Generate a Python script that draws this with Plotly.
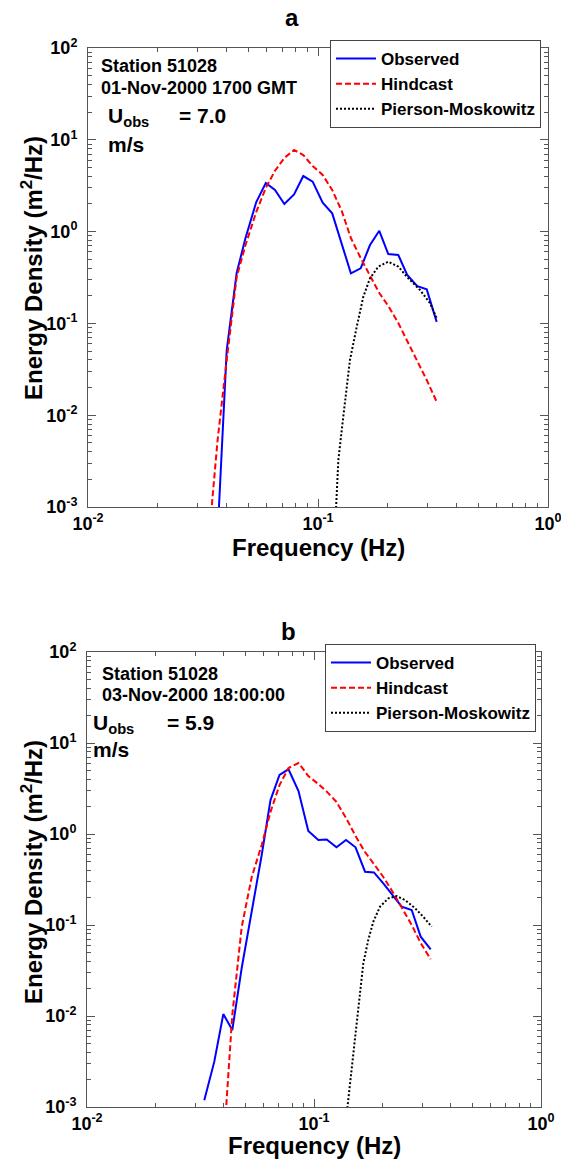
import plotly.graph_objects as go

# ---------------- Panel a data (01-Nov-2000 1700 GMT) ----------------
freq_obs_a = [0.0366, 0.0401, 0.0443, 0.0484, 0.0539, 0.0593, 0.0650, 0.0714,
              0.0787, 0.0863, 0.0948, 0.1048, 0.1153, 0.1268, 0.1390, 0.1533,
              0.1683, 0.1847, 0.2021, 0.2234, 0.2443, 0.2702, 0.2970, 0.3281]
obs_a = [0.0005, 0.0513, 0.354, 0.851, 2.10, 3.38, 2.84, 2.00,
         2.54, 4.03, 3.50, 2.06, 1.58, 0.746, 0.351, 0.398,
         0.714, 1.02, 0.570, 0.556, 0.337, 0.255, 0.235, 0.104]

freq_hind_a = [0.0332, 0.0366, 0.0401, 0.0443, 0.0484, 0.0539, 0.0593, 0.0650,
               0.0714, 0.0787, 0.0863, 0.0948, 0.1048, 0.1153, 0.1268, 0.1390,
               0.1533, 0.1683, 0.1847, 0.2021, 0.2234, 0.2443, 0.2702, 0.2970,
               0.3281]
hind_a = [0.00034, 0.00537, 0.0399, 0.320, 0.714, 1.64, 2.99, 4.6,
          6.34, 7.75, 6.83, 5.18, 4.14, 2.84, 1.68, 0.851,
          0.515, 0.328, 0.214, 0.155, 0.101, 0.0643, 0.0389, 0.0242,
          0.0140]

freq_pm_a = [0.1180, 0.1226, 0.1288, 0.1377, 0.1474, 0.1574, 0.1683, 0.1828,
             0.2021, 0.2234, 0.2469, 0.2777, 0.3069, 0.3281]
pm_a = [0.000437, 0.00325, 0.00964, 0.0399, 0.0920, 0.195, 0.310, 0.415,
        0.470, 0.415, 0.310, 0.231, 0.166, 0.114]

# ---------------- Panel b data (03-Nov-2000 18:00:00) ----------------
freq_obs_b = [0.03286, 0.03637, 0.03986, 0.04366, 0.04803, 0.05316, 0.05883,
              0.06433, 0.07047, 0.07721, 0.08545, 0.09438, 0.1045, 0.1138,
              0.1256, 0.1384, 0.1524, 0.1678, 0.1837, 0.2020, 0.2222, 0.2434,
              0.2694, 0.2951, 0.3266]
obs_b = [0.00119, 0.00315, 0.0105, 0.00702, 0.0337, 0.1345, 0.588,
         2.36, 4.45, 5.14, 2.97, 1.08, 0.859, 0.869,
         0.714, 0.859, 0.714, 0.385, 0.378, 0.287, 0.214, 0.159,
         0.146, 0.0744, 0.0541]

freq_hind_b = [0.03986, 0.04366, 0.04803, 0.05316, 0.05883, 0.06433, 0.07047,
               0.07721, 0.08545, 0.09438, 0.1045, 0.1138, 0.1256, 0.1384,
               0.1524, 0.1678, 0.1837, 0.2020, 0.2222, 0.2434, 0.2694, 0.2951,
               0.3266]
hind_b = [0.000337, 0.0103, 0.0951, 0.337, 0.757, 1.75, 3.45,
          5.31, 6.03, 4.34, 3.54, 2.92, 2.25, 1.50,
          0.951, 0.634, 0.468, 0.337, 0.231, 0.156, 0.100, 0.0634,
          0.0420]

freq_pm_b = [0.1384, 0.1465, 0.1516, 0.1583, 0.1649, 0.1734, 0.1825, 0.1953,
             0.2125, 0.2313, 0.2517, 0.2786, 0.3031, 0.3300]
pm_b = [0.00072, 0.00266, 0.00593, 0.0163, 0.0379, 0.0684, 0.1087, 0.159,
        0.196, 0.208, 0.188, 0.153, 0.123, 0.0958]

# ---------------- tick labels ----------------
x_tickvals = [0.01, 0.1, 1]
x_ticktext = ["10<sup>-2</sup>", "10<sup>-1</sup>", "10<sup>0</sup>"]
y_tickvals = [1e-3, 1e-2, 1e-1, 1, 10, 100]
y_ticktext = ["10<sup>-3</sup>", "10<sup>-2</sup>", "10<sup>-1</sup>",
              "10<sup>0</sup>", "10<sup>1</sup>", "10<sup>2</sup>"]
x_minor = [k * 10.0 ** d for d in (-2, -1) for k in range(2, 10)]
y_minor = [k * 10.0 ** d for d in (-3, -2, -1, 0, 1) for k in range(2, 10)]

series_names = ["Observed", "Hindcast", "Pierson-Moskowitz"]

FONT = "Liberation Sans, Arial, Helvetica, sans-serif"
W, H = 561, 1162
AX = "#555555"

fig = go.Figure()


def add_panel(fo, eo, fh, eh, fp, ep, xa, ya, leg):
    fig.add_trace(go.Scatter(x=fo, y=eo, mode="lines", name=series_names[0],
                             line=dict(color="#0000FF", width=2),
                             xaxis=xa, yaxis=ya, legend=leg))
    fig.add_trace(go.Scatter(x=fh, y=eh, mode="lines", name=series_names[1],
                             line=dict(color="#FF0000", width=2, dash="6px,3px"),
                             xaxis=xa, yaxis=ya, legend=leg))
    fig.add_trace(go.Scatter(x=fp, y=ep, mode="lines", name=series_names[2],
                             line=dict(color="#000000", width=2, dash="2px,2px"),
                             xaxis=xa, yaxis=ya, legend=leg))


add_panel(freq_obs_a, obs_a, freq_hind_a, hind_a, freq_pm_a, pm_a, "x", "y", "legend")
add_panel(freq_obs_b, obs_b, freq_hind_b, hind_b, freq_pm_b, pm_b, "x2", "y2", "legend2")


def axis_common(tv, tt, minor_vals, rng):
    return dict(type="log", range=rng, showline=True, linecolor=AX, linewidth=1,
                mirror="ticks", ticks="inside", ticklen=8, tickcolor=AX, tickwidth=1,
                showgrid=False, zeroline=False, tickmode="array",
                tickvals=tv, ticktext=tt, ticklabeloverflow="allow",
                tickfont=dict(family=FONT, size=18, color="black", weight="bold"),
                minor=dict(ticks="inside", ticklen=4, tickcolor=AX, tickwidth=1,
                           tickvals=minor_vals, showgrid=False))


def px(xp, yp):
    return xp / W, 1 - yp / H


LEG_FONT = dict(family=FONT, size=17, color="black", weight="bold")

fig.update_layout(
    width=W, height=H, autosize=False,
    margin=dict(l=0, r=0, t=0, b=0, autoexpand=False),
    paper_bgcolor="white", plot_bgcolor="white",
    font=dict(family=FONT, color="black"),
    xaxis=dict(domain=[88 / W, 548 / W], anchor="y",
               **axis_common(x_tickvals, x_ticktext, x_minor, [-2, 0])),
    yaxis=dict(domain=[1 - 507 / H, 1 - 48 / H], anchor="x", ticklabelstandoff=6,
               **axis_common(y_tickvals, y_ticktext, y_minor, [-3, 2])),
    xaxis2=dict(domain=[87 / W, 541 / W], anchor="y2",
                **axis_common(x_tickvals, x_ticktext, x_minor, [-2, 0])),
    yaxis2=dict(domain=[1 - 1107 / H, 1 - 652 / H], anchor="x2", ticklabelstandoff=6,
                **axis_common(y_tickvals, y_ticktext, y_minor, [-3, 2])),
    legend=dict(x=330 / W, y=1 - 40 / H, xanchor="left", yanchor="top",
                bgcolor="white", bordercolor="#444444", borderwidth=1,
                itemwidth=40, font=LEG_FONT),
    legend2=dict(x=325 / W, y=1 - 644 / H, xanchor="left", yanchor="top",
                 bgcolor="white", bordercolor="#444444", borderwidth=1,
                 itemwidth=40, font=LEG_FONT),
)

annotations = []


def ann(text, xp, yp, size, xanchor="left", yanchor="middle", angle=0):
    x, y = px(xp, yp)
    annotations.append(dict(text=text, x=x, y=y, xref="paper", yref="paper",
                            xanchor=xanchor, yanchor=yanchor, showarrow=False,
                            textangle=angle,
                            font=dict(family=FONT, size=size, color="black", weight="bold")))


# Panel a
ann("a", 292, 18, 24, xanchor="center")
ann("Station 51028", 99, 66, 18)
ann("01-Nov-2000 1700 GMT", 99, 88, 18)
ann("U<sub>obs</sub>", 106, 102, 21, yanchor="top")
ann("= 7.0", 177, 102, 21, yanchor="top")
ann("m/s", 106, 144, 21)
ann("Frequency (Hz)", 318, 548, 24, xanchor="center")
ann("Energy Density (m<sup>2</sup>/Hz)", 32, 268, 24, xanchor="center", angle=-90)

# Panel b
ann("b", 288, 631, 24, xanchor="center")
ann("Station 51028", 100, 674, 18)
ann("03-Nov-2000 18:00:00", 100, 695, 18)
ann("U<sub>obs</sub>", 91, 709, 21, yanchor="top")
ann("= 5.9", 165, 709, 21, yanchor="top")
ann("m/s", 91, 749, 21)
ann("Frequency (Hz)", 314, 1145, 24, xanchor="center")
ann("Energy Density (m<sup>2</sup>/Hz)", 32, 872, 24, xanchor="center", angle=-90)

fig.update_layout(annotations=annotations)

fig.write_html("out.html")
